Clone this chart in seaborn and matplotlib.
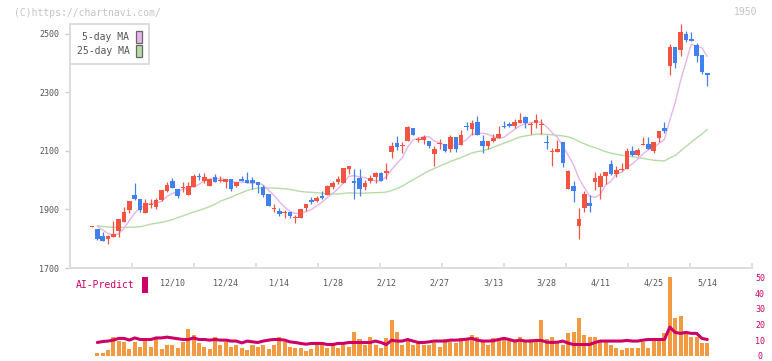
import numpy as np
import pandas as pd
import matplotlib
matplotlib.use('Agg')
import matplotlib.pyplot as plt
from matplotlib.patches import Patch, Rectangle
import seaborn as sns

# 日足データ (2024/11/20 - 2025/05/14)
opens = [1840, 1833, 1809, 1800, 1807, 1828, 1858, 1898, 1950, 1936,
         1889, 1915, 1910, 1932, 1964, 1997, 1970, 1975, 1951, 1977,
         2014, 1999, 1981, 2010, 1998, 1993, 2004, 1979, 2002, 2001,
         2001, 1994, 1976, 1953, 1900, 1895, 1887, 1890, 1871, 1872,
         1905, 1934, 1929, 1947, 1951, 1978, 1994, 1991, 2040, 1999,
         2008, 1977, 1996, 2012, 2025, 2025, 2097, 2127, 2117, 2135,
         2179, 2138, 2139, 2134, 2091, 2123, 2124, 2108, 2148, 2122,
         2184, 2174, 2199, 2134, 2118, 2135, 2146, 2184, 2192, 2187,
         2197, 2216, 2188, 2197, 2188, 2131, 2095, 2098, 2131, 1971,
         1980, 1845, 1906, 1922, 1995, 1978, 2015, 2056, 2023, 2034,
         2037, 2100, 2086, 2119, 2125, 2100, 2146, 2178, 2392, 2456,
         2446, 2500, 2483, 2462, 2429, 2367]
highs = [1843, 1833, 1823, 1814, 1861, 1868, 1908, 1929, 1991, 1936,
         1935, 1935, 1940, 1967, 1993, 2008, 1970, 1993, 1993, 2020,
         2024, 2024, 2004, 2020, 2014, 2004, 2004, 1994, 2014, 2028,
         2011, 1994, 1984, 1953, 1920, 1904, 1899, 1890, 1880, 1902,
         1919, 1942, 1945, 1964, 1984, 1996, 2015, 2042, 2049, 2038,
         2038, 2000, 2017, 2029, 2028, 2060, 2131, 2151, 2131, 2185,
         2179, 2149, 2155, 2134, 2117, 2141, 2124, 2156, 2148, 2172,
         2198, 2206, 2220, 2155, 2134, 2157, 2185, 2203, 2198, 2208,
         2229, 2220, 2200, 2227, 2209, 2156, 2111, 2138, 2131, 2035,
         1997, 1904, 1962, 1950, 2028, 2025, 2028, 2069, 2049, 2060,
         2109, 2116, 2111, 2147, 2148, 2131, 2167, 2199, 2466, 2456,
         2534, 2510, 2507, 2469, 2429, 2367]
lows = [1840, 1795, 1793, 1783, 1807, 1807, 1858, 1889, 1932, 1890,
        1889, 1904, 1903, 1929, 1961, 1972, 1938, 1959, 1951, 1977,
        2001, 1989, 1981, 1995, 1995, 1975, 1963, 1976, 1999, 1992,
        1971, 1955, 1944, 1912, 1893, 1879, 1872, 1872, 1855, 1872,
        1896, 1920, 1925, 1936, 1951, 1970, 1988, 1991, 2021, 1936,
        1947, 1967, 1989, 1989, 1999, 2005, 2077, 2103, 2094, 2135,
        2156, 2131, 2125, 2111, 2050, 2107, 2098, 2098, 2098, 2122,
        2170, 2156, 2156, 2094, 2108, 2131, 2146, 2177, 2183, 2180,
        2197, 2180, 2158, 2180, 2158, 2108, 2050, 2098, 2046, 1971,
        1927, 1798, 1893, 1893, 1967, 1936, 1986, 2018, 2010, 2032,
        2037, 2084, 2084, 2119, 2108, 2092, 2129, 2163, 2360, 2385,
        2423, 2473, 2477, 2405, 2364, 2323]
closes = [1843, 1800, 1793, 1809, 1816, 1868, 1891, 1929, 1936, 1898,
          1923, 1919, 1932, 1967, 1984, 1972, 1947, 1978, 1980, 2014,
          2010, 2010, 2004, 1995, 2001, 2004, 1970, 1994, 1999, 1992,
          1992, 1985, 1950, 1912, 1903, 1886, 1890, 1878, 1874, 1902,
          1919, 1927, 1939, 1939, 1980, 1991, 2004, 2042, 2049, 1992,
          1971, 1991, 2008, 2025, 1999, 2032, 2117, 2115, 2122, 2181,
          2156, 2141, 2147, 2118, 2106, 2126, 2101, 2148, 2108, 2155,
          2181, 2196, 2156, 2118, 2134, 2144, 2158, 2181, 2187, 2199,
          2206, 2197, 2191, 2206, 2191, 2126, 2101, 2107, 2060, 2033,
          1964, 1868, 1953, 1913, 2008, 2015, 2028, 2021, 2034, 2037,
          2100, 2087, 2103, 2124, 2108, 2131, 2167, 2168, 2456, 2402,
          2507, 2481, 2477, 2426, 2371, 2358]

# 出来高 と AI-Predict (2本目から)
volume = [2.2, 1.6, 3.7, 11.8, 9.5, 8.6, 4.4, 8.6, 6.0, 9.5,
          6.0, 11.2, 4.4, 7.3, 6.7, 5.4, 8.6, 16.9, 13.1, 8.0,
          6.0, 4.4, 11.8, 7.3, 8.6, 6.0, 6.7, 5.4, 3.7, 7.3,
          6.0, 7.3, 4.4, 6.7, 11.8, 8.6, 6.0, 5.4, 4.8, 3.1,
          4.4, 9.2, 9.2, 5.4, 6.7, 4.8, 7.3, 6.0, 15.0, 10.5,
          7.3, 11.8, 7.3, 4.8, 11.2, 22.7, 15.0, 7.3, 10.5, 6.7,
          8.0, 6.7, 7.3, 8.0, 6.0, 10.5, 8.6, 8.0, 11.2, 10.5,
          13.1, 11.8, 8.6, 7.3, 11.2, 10.5, 12.4, 10.5, 8.6, 12.4,
          9.2, 10.5, 8.6, 22.7, 10.5, 12.4, 8.6, 7.3, 14.4, 15.0,
          23.9, 13.1, 11.8, 12.4, 9.2, 8.6, 7.3, 5.4, 3.5, 5.4,
          4.8, 5.4, 8.6, 5.4, 11.2, 11.2, 14.4, 50.1, 23.9, 25.2,
          15.0, 12.4, 12.4, 8.0, 8.0]
ai_predict = [8.6, 9.2, 9.5, 10.1, 11.2, 11.2, 10.1, 11.5, 10.5, 10.5,
              10.5, 11.5, 11.5, 12.0, 11.5, 11.0, 10.5, 10.5, 11.5, 10.5,
              10.5, 10.1, 10.5, 10.1, 10.1, 9.5, 9.5, 8.3, 9.5, 9.0,
              8.6, 9.5, 10.1, 10.5, 10.5, 10.1, 9.0, 8.6, 8.0, 7.5,
              8.0, 8.0, 8.0, 7.3, 7.3, 8.0, 8.0, 8.6, 8.6, 8.6,
              8.6, 8.6, 9.5, 8.6, 7.3, 10.0, 9.5, 9.5, 10.5, 9.5,
              8.6, 8.6, 9.0, 9.5, 9.5, 9.5, 10.1, 10.1, 10.3, 10.7,
              11.2, 10.1, 9.5, 9.5, 9.7, 10.5, 11.2, 10.5, 9.5, 10.1,
              9.5, 9.5, 9.9, 9.9, 8.8, 8.6, 8.8, 9.5, 8.2, 7.3,
              7.3, 7.3, 7.3, 8.6, 9.5, 9.5, 9.5, 9.5, 9.5, 9.9,
              9.5, 9.5, 10.1, 10.5, 10.5, 10.5, 10.5, 18.4, 15.0, 14.4,
              15.0, 14.4, 14.4, 11.2, 10.5]

# 期間初めの移動平均 (チャートから読み取り)
ma5_head = [1842, 1830, 1818]
ma25_head = [1845, 1842, 1840, 1839, 1839, 1839, 1839, 1840, 1841, 1845,
             1850, 1853, 1856, 1860, 1865, 1872, 1878, 1885, 1891, 1897,
             1903, 1910, 1918]

date_labels = ['12/10', '12/24', '1/14', '1/28', '2/12', '2/27',
               '3/13', '3/28', '4/11', '4/25', '5/14']
date_pos = [15, 25, 35, 45, 55, 65, 75, 85, 95, 105, 115]

price_ticks = [1700, 1900, 2100, 2300, 2500]
vol_ticks = [0, 10, 20, 30, 40, 50]

RED = '#f25442'
BLUE = '#4080f0'
PINK = '#e8b4ec'
GREEN = '#b6dca6'
MAGENTA = '#cc0066'
ORANGE = '#f29a42'
GRAY = '#555555'
MONO = 'DejaVu Sans Mono'


def main():
    sns.set_style('white')
    plt.rcParams['font.family'] = [MONO, 'DejaVu Sans']

    df = pd.DataFrame({'open': opens, 'high': highs, 'low': lows, 'close': closes})
    df['x'] = np.arange(len(df))
    df['up'] = df['close'] >= df['open']
    df['color'] = np.where(df['up'], RED, BLUE)
    df['ma5'] = df['close'].rolling(5).mean()
    df['ma25'] = df['close'].rolling(25).mean()
    df.loc[1:len(ma5_head), 'ma5'] = ma5_head
    df.loc[1:len(ma25_head), 'ma25'] = ma25_head

    sub = pd.DataFrame({'x': np.arange(1, len(df)), 'volume': volume, 'ai': ai_predict})

    fig = plt.figure(figsize=(7.72, 3.61), dpi=100)
    xlim = (-4.11, 123.36)

    # --- ローソク足 ---
    ax = fig.add_axes([70 / 772, 93 / 361, 682 / 772, 244 / 361])
    sns.lineplot(data=df, x='x', y='ma25', ax=ax, color=GREEN, lw=1.0, zorder=1)
    sns.lineplot(data=df, x='x', y='ma5', ax=ax, color=PINK, lw=1.0, zorder=1)
    ax.vlines(df['x'], df['low'], df['high'], colors=df['color'], lw=0.9, zorder=2)
    body = (df['close'] - df['open']).abs().clip(lower=3.5)
    ax.bar(df['x'], body, bottom=df[['open', 'close']].min(axis=1), width=0.86,
           color=df['color'], lw=0, zorder=3)

    ax.set_xlim(*xlim)
    ax.set_ylim(1700, 2534)
    ax.set_xlabel('')
    ax.set_ylabel('')
    ax.set_yticks(price_ticks)
    ax.set_xticks(date_pos)
    ax.set_xticklabels(date_labels)
    ax.set_xticks(np.linspace(xlim[0], xlim[1], 12), minor=True)
    ax.tick_params(axis='y', left=True, length=3.6, width=1, color='#cccccc',
                   labelsize=6, labelcolor=GRAY, pad=4.3)
    ax.tick_params(axis='x', which='major', length=0, labelsize=6, labelcolor=GRAY, pad=7.5)
    ax.tick_params(axis='x', which='minor', bottom=True, direction='in', length=3.6,
                   width=1.2, color='#dddddd')
    for s in ['top', 'right']:
        ax.spines[s].set_visible(False)
    for s in ['left', 'bottom']:
        ax.spines[s].set_color('#dddddd')
        ax.spines[s].set_linewidth(1.4)

    handles = [Patch(facecolor=PINK, edgecolor='#666666', lw=0.9, label='5-day MA'),
               Patch(facecolor=GREEN, edgecolor='#666666', lw=0.9, label='25-day MA')]
    leg = ax.legend(handles=handles, loc='upper left', bbox_to_anchor=(0, 1), borderaxespad=0,
                    markerfirst=False, fancybox=False, frameon=True, edgecolor='#dddddd',
                    prop={'family': MONO, 'size': 7}, handlelength=0.6, handleheight=1.6,
                    handletextpad=0.7, labelspacing=0.16, borderpad=0.68, framealpha=1)
    leg.get_frame().set_linewidth(1.4)
    for t in leg.get_texts():
        t.set_color(GRAY)
    leg.set_zorder(10)

    # --- 出来高 / AI-Predict ---
    ax2 = fig.add_axes([70 / 772, 0, 682 / 772, 89 / 361])
    ax2.bar(sub['x'], sub['volume'], width=0.75, color=ORANGE, lw=0, zorder=1)
    sns.lineplot(data=sub, x='x', y='ai', ax=ax2, color=MAGENTA, lw=2.2, zorder=2)
    ax2.set_xlim(*xlim)
    ax2.set_ylim(-3.2, 53.5)
    ax2.set_xlabel('')
    ax2.set_ylabel('')
    ax2.set_xticks([])
    ax2.yaxis.tick_right()
    ax2.set_yticks(vol_ticks)
    ax2.tick_params(axis='y', length=0, labelsize=6, labelcolor=MAGENTA, pad=5.8)
    for lbl in ax2.get_yticklabels():
        lbl.set_ha('center')
    for s in ax2.spines.values():
        s.set_visible(False)
    ax2.patch.set_alpha(0)

    # --- テキスト ---
    fig.text(14 / 772, 1 - 12.5 / 361, '(C)https://chartnavi.com/', fontsize=7,
             color='#c4c4c4', va='center', ha='left', family=MONO)
    fig.text(757 / 772, 1 - 12 / 361, '1950', fontsize=7, color='#c4c4c4',
             va='center', ha='right', family=MONO)
    fig.text(76 / 772, 1 - 285.5 / 361, 'AI-Predict', fontsize=7, color=MAGENTA,
             va='center', ha='left', family=MONO)
    fig.patches.append(Rectangle((142 / 772, 1 - 293 / 361), 6 / 772, 16 / 361,
                                 transform=fig.transFigure, facecolor=MAGENTA, lw=0))

    fig.savefig('out.png', dpi=100)
    plt.close(fig)


if __name__ == '__main__':
    main()
